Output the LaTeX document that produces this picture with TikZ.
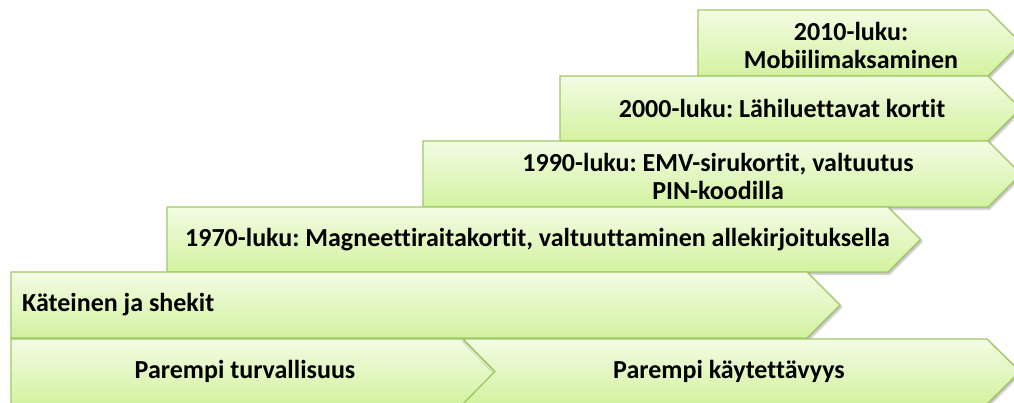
\documentclass[tikz,border=0pt]{standalone}
\usepackage{fontspec}
\setmainfont{Carlito}[RawFeature=-liga]
\frenchspacing
\usetikzlibrary{shadows.blur}
\definecolor{boxtop}{RGB}{242,252,228}
\definecolor{boxbot}{RGB}{212,242,160}
\definecolor{boxline}{RGB}{160,200,100}
\tikzset{
  arrowbox/.style={draw=boxline, line width=1.3pt, line join=miter,
    top color=boxtop, bottom color=boxbot,
    blur shadow={shadow xshift=1.5pt, shadow yshift=-2pt, shadow blur steps=5, shadow opacity=30}},
  label/.style={font=\fontsize{26}{28}\selectfont\bfseries, text=black, inner sep=0pt, align=center}
}
% \arrowrow{left}{top}{right of body}{bottom}: a block ending in a point
\newcommand{\arrowrow}[4]{%
  \path[arrowbox] (#1,#2) -- (#3,#2) -- ({#3+(#4-#2)/2},{(#2+#4)/2}) -- (#3,#4) -- (#1,#4) -- cycle;}
\begin{document}
\begin{tikzpicture}[x=1pt,y=-1pt]
\useasboundingbox (0,0) rectangle (1014,403);
\clip (0,0) rectangle (1014,403);
% stair of eras, top to bottom
\arrowrow{698}{10}{988}{76}
\arrowrow{560}{76}{988}{141}
\arrowrow{423}{141}{988}{207}
\arrowrow{167}{207}{888}{272}
\arrowrow{11}{272}{807}{338}
% bottom band: two chained arrows
\arrowrow{11}{339}{463}{404}
\path[arrowbox] (463,339) -- (987,339) -- (1020,371.5) -- (987,404) -- (463,404) -- (495,371.5) -- cycle;
% texts
\node[label] (t2010) at (851,45) {2010-luku:\\Mobiilimaksaminen};
\node[label] (t2000) at (782,108) {2000-luku: Lähiluettavat kortit};
\node[label] (t1990) at (718,176) {1990-luku: EMV-sirukortit, valtuutus\\PIN-koodilla};
\node[label, anchor=west] (t1970) at (185,240) {1970-luku: Magneettiraitakortit, valtuuttaminen allekirjoituksella};
\node[label, anchor=west] (tcash) at (22,305) {Käteinen ja shekit};
\node[label] (tsec) at (245,371) {Parempi turvallisuus};
\node[label] (tuse) at (729,371) {Parempi käytettävyys};
\end{tikzpicture}
\end{document}
